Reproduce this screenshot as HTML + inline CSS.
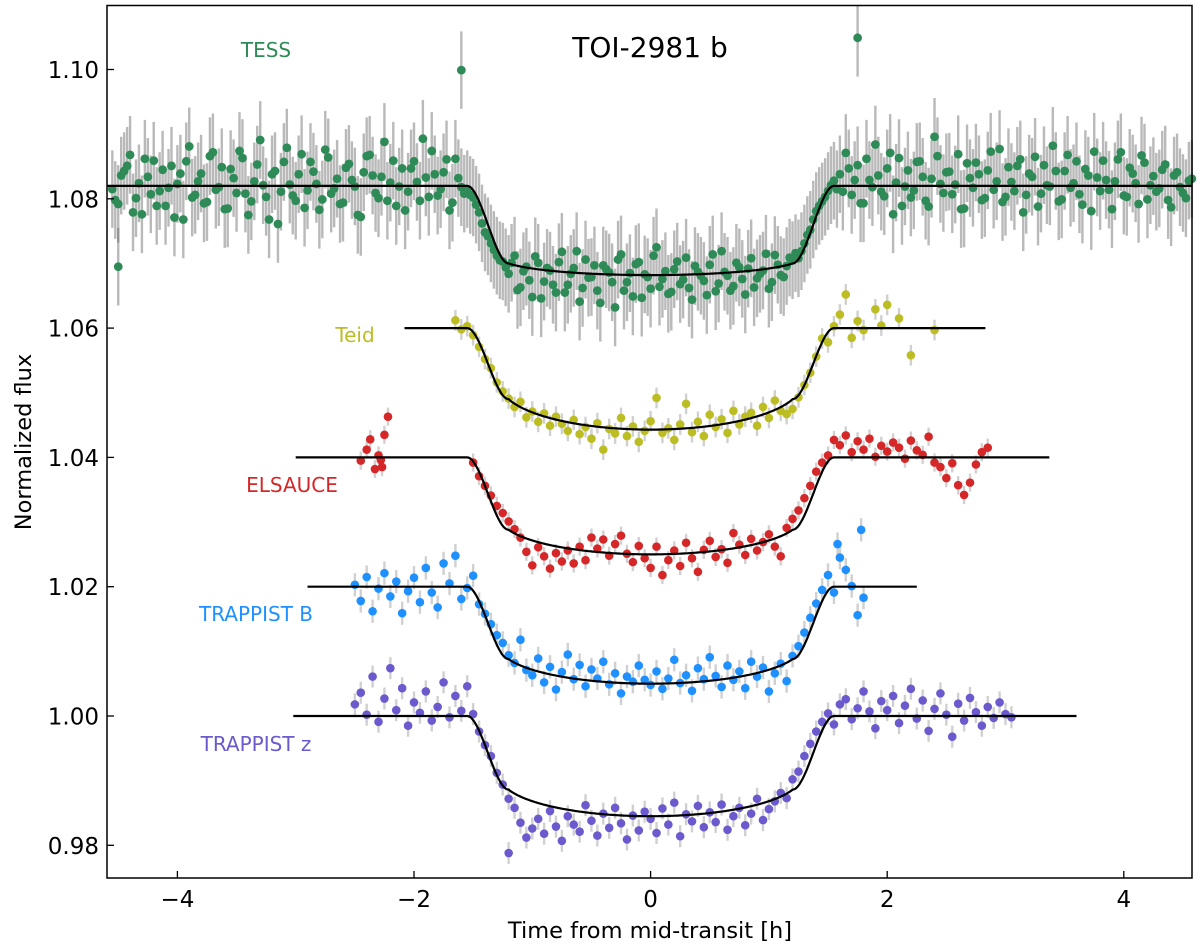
<!DOCTYPE html>
<html><head><meta charset="utf-8"><style>
html,body{margin:0;padding:0;background:#fff;}
svg{display:block;font-family:"DejaVu Sans","Liberation Sans",sans-serif;}
</style></head><body>
<svg id="chart" width="1200" height="949" viewBox="0 0 1200 949" xmlns="http://www.w3.org/2000/svg">
<g id="errs"></g>
<g id="pts"></g>
<g id="models"></g>
<rect x="107" y="5.5" width="1085" height="872.5" fill="none" stroke="#000" stroke-width="1.5"/>
<g id="axes"></g>
<text x="650" y="57" font-size="28" text-anchor="middle">TOI-2981 b</text>
<text x="266" y="57" font-size="20" fill="#2e8b57" text-anchor="middle">TESS</text>
<text x="355" y="342" font-size="20" fill="#bcbd22" text-anchor="middle">Teid</text>
<text x="292" y="492" font-size="20" fill="#d62728" text-anchor="middle">ELSAUCE</text>
<text x="256" y="621" font-size="20" fill="#1e90ff" text-anchor="middle">TRAPPIST B</text>
<text x="256" y="751" font-size="20" fill="#6a5acd" text-anchor="middle">TRAPPIST z</text>
<text x="650" y="938" font-size="22.5" text-anchor="middle">Time from mid-transit [h]</text>
<text transform="translate(31,442) rotate(-90)" font-size="22.5" text-anchor="middle">Normalized flux</text>
</svg>
<script>
const xTicks=[-4,-2,0,2,4];
const xTickLabels=["\u22124","\u22122","0","2","4"];
const yTicks=[0.98,1.00,1.02,1.04,1.06,1.08,1.10];
const yTickLabels=["0.98","1.00","1.02","1.04","1.06","1.08","1.10"];

const tessStart=-4.55, tessStep=0.05;
const tessA=[1.0815,1.0792,1.0843,1.0868,1.0801,1.0776,1.0834,1.0859,1.0812,1.0789,
1.0851,1.0823,1.0768,1.0881,1.0806,1.0839,1.0795,1.0872,1.0818,1.0784,
1.0846,1.0809,1.0863,1.0775,1.0827,1.0891,1.0803,1.0838,1.0761,1.0857,
1.0822,1.0797,1.0869,1.0813,1.0842,1.0783,1.0876,1.0808,1.0831,1.0794,
1.0854,1.0819,1.0772,1.0866,1.0836,1.0801,1.0888,1.0825,1.0789,1.0847,
1.0811,1.0858,1.0797,1.0833,1.0874,1.0805,1.0841,1.0782,1.0862,1.0818,
1.0815,1.0802,1.0779,1.0748,1.0731,1.0712,1.0703,
1.0684,1.0712,1.0663,1.0695,1.0648,1.0701,1.0672,1.0689,1.0655,1.0718,
1.0667,1.0693,1.0641,1.0706,1.0679,1.0658,1.0697,1.0686,1.0632,1.0714,
1.0671,1.0649,1.0702,1.0683,1.0661,1.0725,1.0676,1.0653,1.0691,1.0668,
1.0709,1.0644,1.0687,1.0673,1.0698,1.0657,1.0719,1.0681,1.0665,1.0694,
1.0652,1.0708,1.0677,1.0689,1.0661,1.0713,1.0682,1.0696,1.0705,
1.0708,1.0731,1.0752,1.0781,1.0796,1.0812,1.0828,
1.0838,1.0871,1.0806,1.0852,1.0793,1.0829,1.0884,1.0811,1.0847,1.0776,
1.0863,1.0819,1.0802,1.0857,1.0834,1.0788,1.0896,1.0823,1.0841,1.0807,
1.0869,1.0785,1.0832,1.0856,1.0798,1.0844,1.0814,1.0877,1.0803,1.0826,
1.0851,1.0779,1.0839,1.0865,1.0808,1.0821,1.0882,1.0796,1.0843,1.0817,
1.0858,1.0791,1.0836,1.0873,1.0812,1.0829,1.0784,1.0861,1.0805,1.0848,
1.0824,1.0867,1.0799,1.0835,1.0816,1.0853,1.0787,1.0841,1.0809,1.0828];
const tessB=[1.0798,1.0836,1.0851,1.0779,1.0824,1.0862,1.0807,1.0789,1.0845,1.0817,
1.0771,1.0839,1.0858,1.0802,1.0827,1.0793,1.0866,1.0814,1.0849,1.0785,
1.0832,1.0874,1.0808,1.0796,1.0853,1.0821,1.0768,1.0843,1.0811,1.0879,
1.0805,1.0838,1.0786,1.0857,1.0823,1.0799,1.0864,1.0816,1.0792,1.0848,
1.0829,1.0775,1.0841,1.0868,1.0809,1.0834,1.0797,1.0859,1.0819,1.0782,
1.0847,1.0826,1.0893,1.0803,1.0838,1.0815,1.0861,1.0794,1.0832,1.0808,
1.0806,1.0791,1.0762,1.0742,1.0721,1.0705,1.0694,
1.0701,1.0659,1.0688,1.0674,1.0711,1.0646,1.0693,1.0667,1.0702,1.0655,
1.0684,1.0719,1.0662,1.0678,1.0697,1.0639,1.0691,1.0671,1.0706,1.0658,
1.0685,1.0699,1.0647,1.0679,1.0712,1.0664,1.0688,1.0656,1.0703,1.0675,
1.0662,1.0696,1.0681,1.0651,1.0714,1.0669,1.0687,1.0658,1.0701,1.0676,
1.0692,1.0663,1.0684,1.0715,1.0671,1.0698,1.0679,1.0709,1.0716,
1.0719,1.0744,1.0768,1.0789,1.0803,1.0821,1.0815,
1.0811,1.0847,1.0829,1.0793,1.0862,1.0818,1.0836,1.0804,1.0871,1.0825,
1.0789,1.0844,1.0813,1.0858,1.0797,1.0831,1.0866,1.0809,1.0842,1.0822,
1.0784,1.0855,1.0817,1.0838,1.0801,1.0873,1.0827,1.0795,1.0849,1.0812,
1.0861,1.0806,1.0834,1.0788,1.0852,1.0819,1.0843,1.0799,1.0868,1.0824,
1.0807,1.0846,1.0781,1.0833,1.0859,1.0814,1.0827,1.0872,1.0803,1.0839,
1.0792,1.0856,1.0821,1.0811,1.0845,1.0798,1.0836,1.0818,1.0801,1.0831];
const tessExtraT=[-4.5,-1.6,1.75];
const tessExtraY=[1.0695,1.0999,1.1049];

const teidStart=-1.65, teidStep=0.05;
const teidY=[1.0612,1.0598,1.0603,1.0589,1.0571,1.0552,1.0538,1.0516,1.0502,1.0491,
1.0478,1.0486,1.0462,1.0471,1.0455,1.0468,1.0449,1.0463,1.0452,1.0441,
1.0458,1.0436,1.0447,1.0429,1.0453,1.0412,1.0444,1.0437,1.0461,1.0433,
1.0448,1.0424,1.0441,1.0456,1.0492,1.0438,1.0445,1.0427,1.0451,1.0483,
1.0439,1.0455,1.0433,1.0466,1.0447,1.0459,1.0438,1.0472,1.0451,1.0463,
1.0469,1.0449,1.0478,1.0461,1.0488,1.0472,1.0467,1.0475,1.0493,1.0512,
1.0531,1.0556,1.0584,1.0578,1.0603,1.0621];
const teidExtraT=[1.65,1.7,1.75,1.8,1.9,1.95,2.0,2.1,2.2,2.4];
const teidExtraY=[1.0652,1.0585,1.0611,1.0597,1.0629,1.0604,1.0636,1.0615,1.0558,1.0597];

const elsStart=-1.5, elsStep=0.05;
const elsY=[1.0392,1.0371,1.0356,1.0341,1.0325,1.0314,1.0301,1.0289,1.0276,1.0254,
1.0233,1.0261,1.0247,1.0228,1.0252,1.0239,1.0256,1.0236,1.0262,1.0241,
1.0276,1.0259,1.0273,1.0248,1.0266,1.0279,1.0251,1.0238,1.0263,1.0244,
1.0229,1.0262,1.0218,1.0241,1.0256,1.0232,1.0268,1.0244,1.0223,1.0257,
1.0271,1.0246,1.0258,1.0237,1.0283,1.0265,1.0249,1.0274,1.0256,1.0269,
1.0281,1.0262,1.0247,1.0291,1.0305,1.0318,1.0337,1.0356,1.0378,1.0392,
1.0403,1.0427,1.0419,1.0434,1.0408,1.0425,1.0412,1.0429,1.0401,1.0418,
1.0409,1.0423,1.0415,1.0398,1.0426,1.0411,1.0404,1.0432,1.0392,1.0385,
1.0368,1.0391,1.0357,1.0342,1.0361,1.0389,1.0408,1.0415];
const elsExtraT=[-2.45,-2.4,-2.37,-2.33,-2.3,-2.28,-2.27,-2.25,-2.22];
const elsExtraY=[1.0395,1.0412,1.0428,1.0382,1.0403,1.0396,1.0385,1.0435,1.0463];

const tbStart=-2.5, tbStep=0.05;
const tbY=[1.0203,1.0178,1.0215,1.0162,1.0197,1.0221,1.0185,1.0208,1.0159,1.0193,
1.0214,1.0176,1.0229,1.0191,1.0168,1.0236,1.0205,1.0248,1.0181,1.0198,
1.0217,1.0173,1.0158,1.0142,1.0125,1.0113,1.0094,1.0082,1.0118,1.0071,
1.0063,1.0089,1.0052,1.0076,1.0041,1.0068,1.0095,1.0057,1.0079,1.0046,
1.0072,1.0058,1.0084,1.0049,1.0066,1.0035,1.0061,1.0053,1.0078,1.0056,
1.0048,1.0069,1.0042,1.0058,1.0087,1.0051,1.0063,1.0039,1.0074,1.0057,
1.0091,1.0062,1.0045,1.0078,1.0056,1.0069,1.0043,1.0084,1.0061,1.0075,
1.0038,1.0066,1.0081,1.0054,1.0093,1.0108,1.0129,1.0152,1.0174,1.0195,
1.0218,1.0191,1.0245,1.0226,1.0201,1.0156,1.0183];
const tbExtraT=[1.58,1.78];
const tbExtraY=[1.0266,1.0288];

const tzStart=-2.5, tzStep=0.05;
const tzY=[1.0018,1.0036,1.0002,1.0061,0.9991,1.0027,1.0074,1.0009,1.0043,0.9985,
1.0021,1.0005,1.0038,0.9993,1.0014,1.0052,0.9998,1.0031,1.0008,1.0046,
1.0003,0.9976,0.9955,0.9938,0.9912,0.9894,0.9872,0.9858,0.9835,0.9812,
0.9826,0.9841,0.9818,0.9853,0.9829,0.9807,0.9845,0.9832,0.9821,0.9862,
0.9838,0.9815,0.9849,0.9827,0.9858,0.9834,0.9809,0.9846,0.9823,0.9852,
0.9841,0.9819,0.9857,0.9832,0.9866,0.9814,0.9848,0.9837,0.9861,0.9828,
0.9851,0.9836,0.9863,0.9824,0.9845,0.9858,0.9831,0.9849,0.9872,0.9839,
0.9856,0.9868,0.9881,0.9873,0.9902,0.9914,0.9938,0.9957,0.9976,0.9991,
1.0004,0.9987,1.0018,1.0026,0.9995,1.0012,1.0038,1.0007,0.9981,1.0023,
1.0009,1.0031,0.9989,1.0016,1.0042,0.9996,1.0024,0.9977,1.0011,1.0035,
1.0002,0.9968,1.0019,0.9993,1.0028,1.0006,0.9985,1.0014,0.9997,1.0021,
1.0003,0.9998];
const tzExtraT=[-1.2];
const tzExtraY=[0.9788];

// model curves: baseline, flux at 2nd contact edge, flux at centre, time range
const modelBase=[1.082,1.060,1.040,1.020,1.000];
const modelEdge=[1.0700,1.0490,1.0288,1.0088,0.9886];
const modelCenter=[1.0682,1.0443,1.0250,1.0050,0.9845];
const modelStart=[-4.6,-2.08,-3.0,-2.9,-3.02];
const modelEnd=[4.6,2.83,3.37,2.25,3.6];

const X0=650.6, XS=118.3, Y0=716, YS=6465;
function sx(t){return X0+t*XS;}
function sy(v){return Y0-(v-1.0)*YS;}
const NS="http://www.w3.org/2000/svg";
const gE=document.getElementById('errs'), gP=document.getElementById('pts'), gM=document.getElementById('models'), gA=document.getElementById('axes');
function mk(tag,attrs,parent){const e=document.createElementNS(NS,tag);for(const k in attrs)e.setAttribute(k,attrs[k]);parent.appendChild(e);return e;}
function clipX(x){return x>=107&&x<=1192;}
function plotSeries(ts,ys,color,err,name,errColor,r){
  for(let i=0;i<ys.length;i++){
    const x=sx(ts[i]); if(!clipX(x))continue;
    const y=sy(ys[i]);
    const l=mk('line',{x1:x,x2:x,y1:Math.max(6,y-err*YS),y2:y+err*YS,stroke:errColor,'stroke-width':2.4},gE);
    
    
    const c=mk('circle',{cx:x,cy:y,r:r,fill:color},gP);
    
    
  }
}
function grid(start,step,n){const a=[];for(let i=0;i<n;i++)a.push(start+step*i);return a;}
const tessT=grid(tessStart,tessStep,tessA.length);
const tessT2=grid(tessStart+tessStep/2,tessStep,tessB.length);
const tessErr='rgba(100,100,100,0.45)', gErr='rgba(170,170,170,0.55)';
plotSeries(tessT,tessA,'#2e8b57',0.006,'tess',tessErr,4.4);
plotSeries(tessT2,tessB,'#2e8b57',0.006,'tess',tessErr,4.4);
plotSeries(tessExtraT,tessExtraY,'#2e8b57',0.006,'tess',tessErr,4.4);
plotSeries(grid(teidStart,teidStep,teidY.length),teidY,'#bcbd22',0.0016,'teid',gErr,4.3);
plotSeries(teidExtraT,teidExtraY,'#bcbd22',0.0016,'teid',gErr,4.3);
plotSeries(grid(elsStart,elsStep,elsY.length),elsY,'#d62728',0.0014,'elsauce',gErr,4.3);
plotSeries(elsExtraT,elsExtraY,'#d62728',0.0014,'elsauce',gErr,4.3);
plotSeries(grid(tbStart,tbStep,tbY.length),tbY,'#1e90ff',0.0018,'trappist-b',gErr,4.3);
plotSeries(tbExtraT,tbExtraY,'#1e90ff',0.0018,'trappist-b',gErr,4.3);
plotSeries(grid(tzStart,tzStep,tzY.length),tzY,'#6a5acd',0.0017,'trappist-z',gErr,4.3);
plotSeries(tzExtraT,tzExtraY,'#6a5acd',0.0017,'trappist-z',gErr,4.3);

const T2=1.2,T1=1.55;
function model(t,b,e,c){
  const a=Math.abs(t);
  if(a>=T1)return b;
  if(a>=T2){const s=(a-T2)/(T1-T2);return e+(b-e)*(s*s*(3-2*s));}
  const u=(t/T2)*(t/T2);
  return c+(e-c)*(1-Math.sqrt(1-u*0.9))/(1-Math.sqrt(0.1));
}
const modelNames=['tess-model','teid-model','elsauce-model','trappist-b-model','trappist-z-model'];
for(let k=0;k<modelBase.length;k++){
  let d='';
  for(let t=modelStart[k];t<=modelEnd[k]+1e-9;t+=0.01){
    const x=Math.min(1192,Math.max(107,sx(t)));
    d+=(d?'L':'M')+x.toFixed(1)+','+sy(model(t,modelBase[k],modelEdge[k],modelCenter[k])).toFixed(1);
  }
  const p=mk('path',{d:d,fill:'none',stroke:'#000','stroke-width':2.2},gM);
  
  
}
for(let i=0;i<xTicks.length;i++){
  const x=sx(xTicks[i]);
  const l=mk('line',{x1:x,x2:x,y1:878,y2:871,stroke:'#000','stroke-width':1.3},gA);
  
  
  const t=mk('text',{x:x,y:907,'font-size':23,'text-anchor':'middle'},gA);
  t.textContent=xTickLabels[i];
  
  
}
for(let i=0;i<yTicks.length;i++){
  const y=sy(yTicks[i]);
  const l=mk('line',{x1:107,x2:114,y1:y,y2:y,stroke:'#000','stroke-width':1.3},gA);
  
  
  const t=mk('text',{x:99,y:y+8.5,'font-size':23,'text-anchor':'end'},gA);
  t.textContent=yTickLabels[i];
  
  
}
</script>
</body></html>
